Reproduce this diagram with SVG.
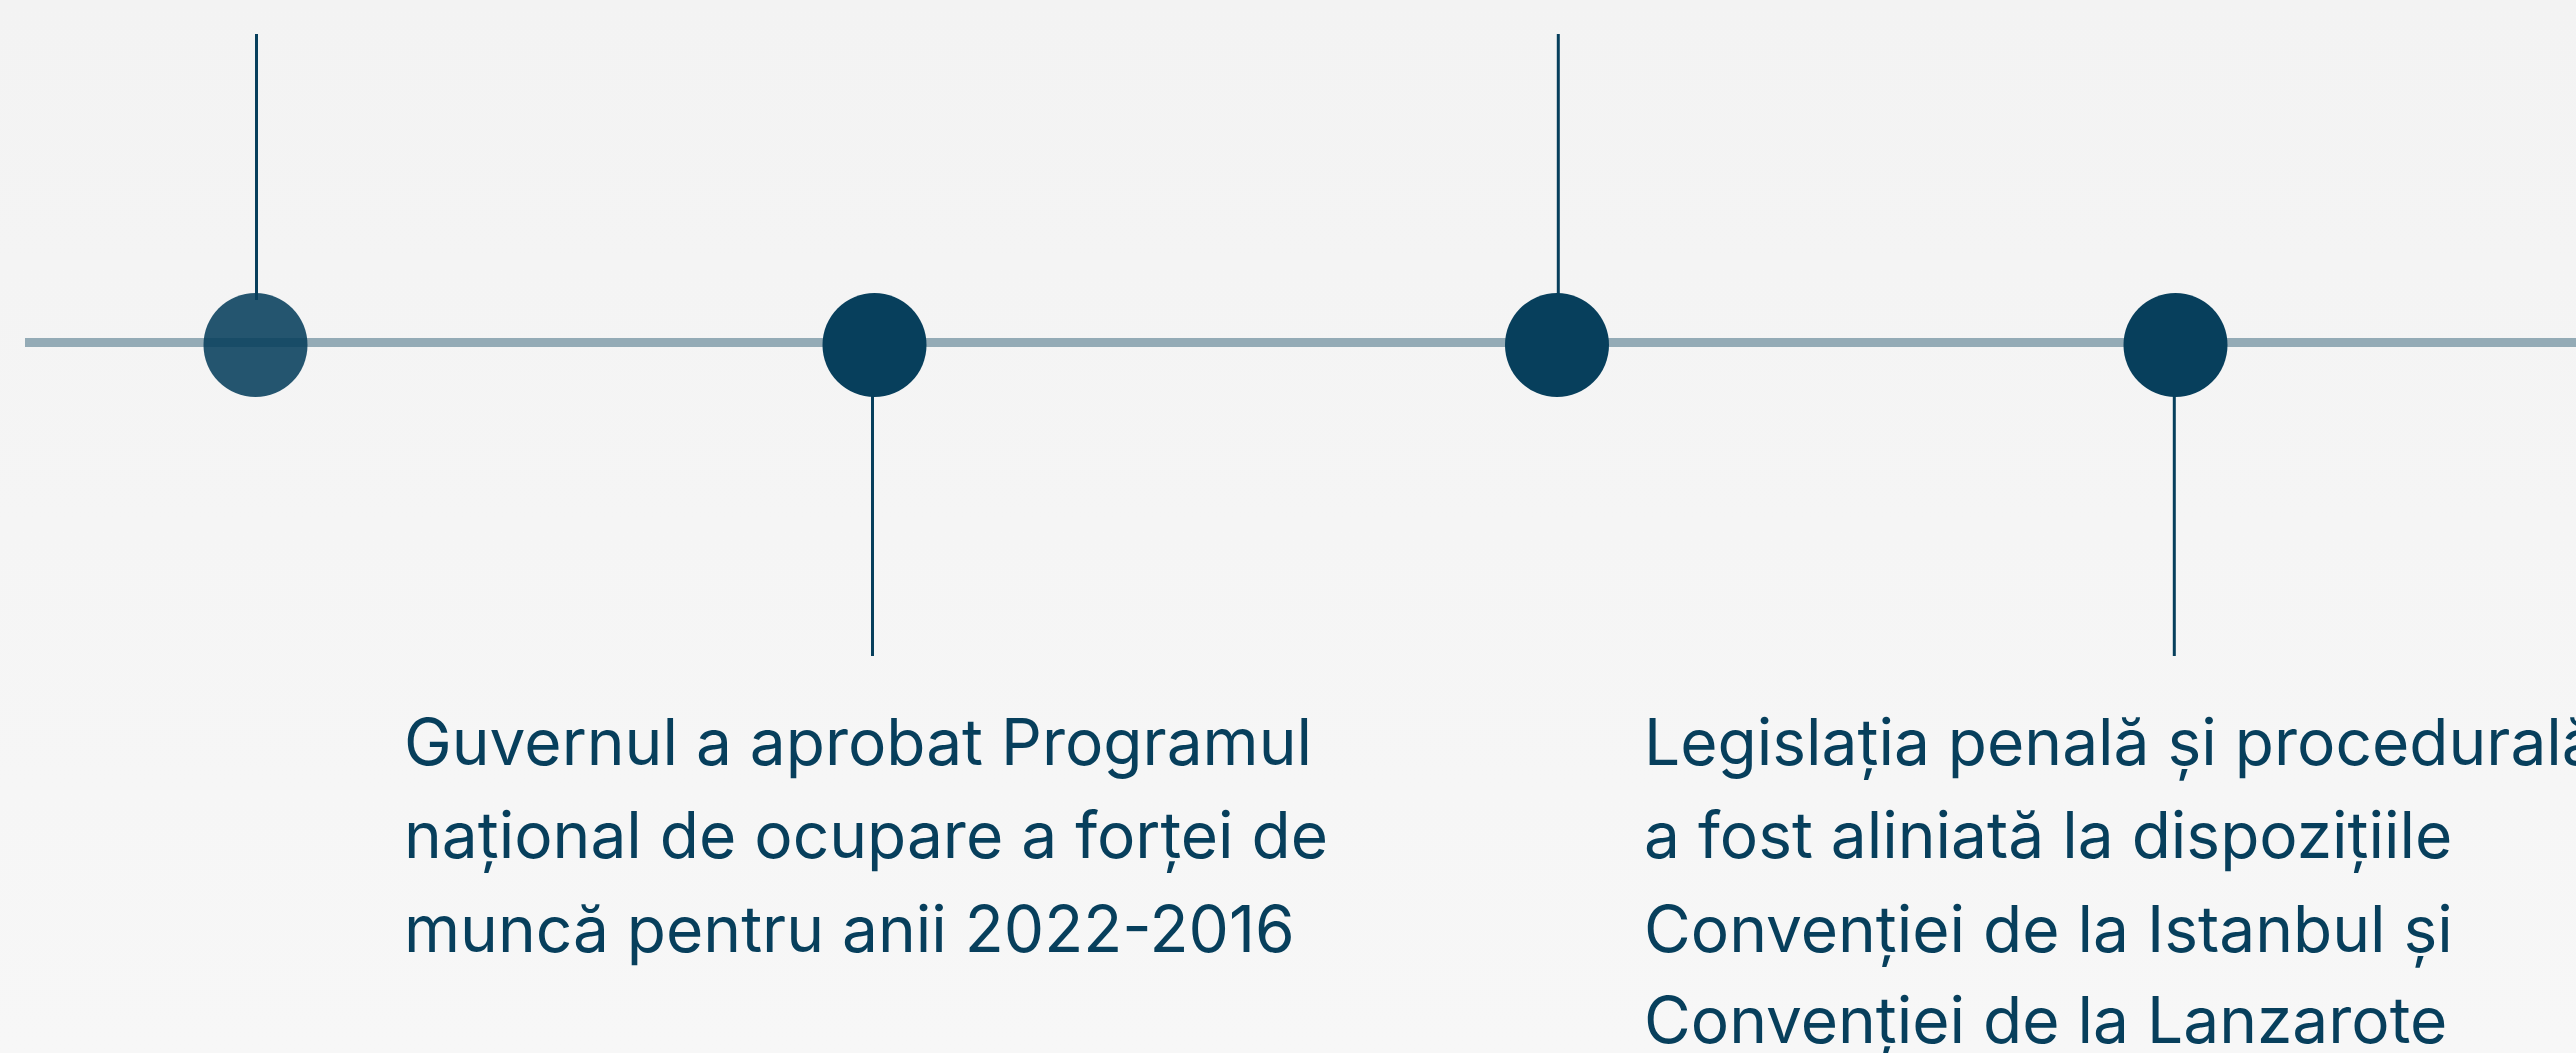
<svg xmlns="http://www.w3.org/2000/svg" width="2576" height="1053" viewBox="0 0 2576 1053">
  <defs>
    <linearGradient id="bg" x1="0" y1="0" x2="0" y2="1">
      <stop offset="0" stop-color="#f3f3f3"/>
      <stop offset="1" stop-color="#f7f7f7"/>
    </linearGradient>
  </defs>
  <style>
    .axis { stroke: #94abb6; stroke-width: 9; fill: none; }
    .stem { stroke: #073f5c; stroke-width: 3; fill: none; }
    .dot { fill: #073f5c; }
    .label { font-family: Inter, "Noto Sans", "Liberation Sans", sans-serif; font-size: 64px; fill: #073f5c; }
  </style>
  <rect x="0" y="0" width="2576" height="1053" fill="url(#bg)"/>
  <g id="connectors">
    <line class="axis" x1="25" y1="342.5" x2="2576" y2="342.5"/>
    <line class="stem" x1="256.5" y1="34" x2="256.5" y2="300"/>
    <line class="stem" x1="872.5" y1="390" x2="872.5" y2="656"/>
    <line class="stem" x1="1558.3" y1="34" x2="1558.3" y2="300"/>
    <line class="stem" x1="2174.3" y1="390" x2="2174.3" y2="656"/>
  </g>
  <g id="node-1">
    <circle class="dot" cx="255.5" cy="345" r="52" opacity="0.88"/>
  </g>
  <g id="node-2">
    <circle class="dot" cx="874.5" cy="345" r="52"/>
    <text class="label" x="404" y="765">Guvernul a aprobat Programul</text>
    <text class="label" x="404" y="858">național de ocupare a forței de</text>
    <text class="label" x="404" y="952">muncă pentru anii 2022-2016</text>
  </g>
  <g id="node-3">
    <circle class="dot" cx="1557" cy="345" r="52"/>
  </g>
  <g id="node-4">
    <circle class="dot" cx="2175.5" cy="345" r="52"/>
    <text class="label" x="1644" y="765">Legislația penală și procedurală</text>
    <text class="label" x="1644" y="858">a fost aliniată la dispozițiile</text>
    <text class="label" x="1644" y="952">Convenției de la Istanbul și</text>
    <text class="label" x="1644" y="1043">Convenției de la Lanzarote</text>
  </g>
</svg>
